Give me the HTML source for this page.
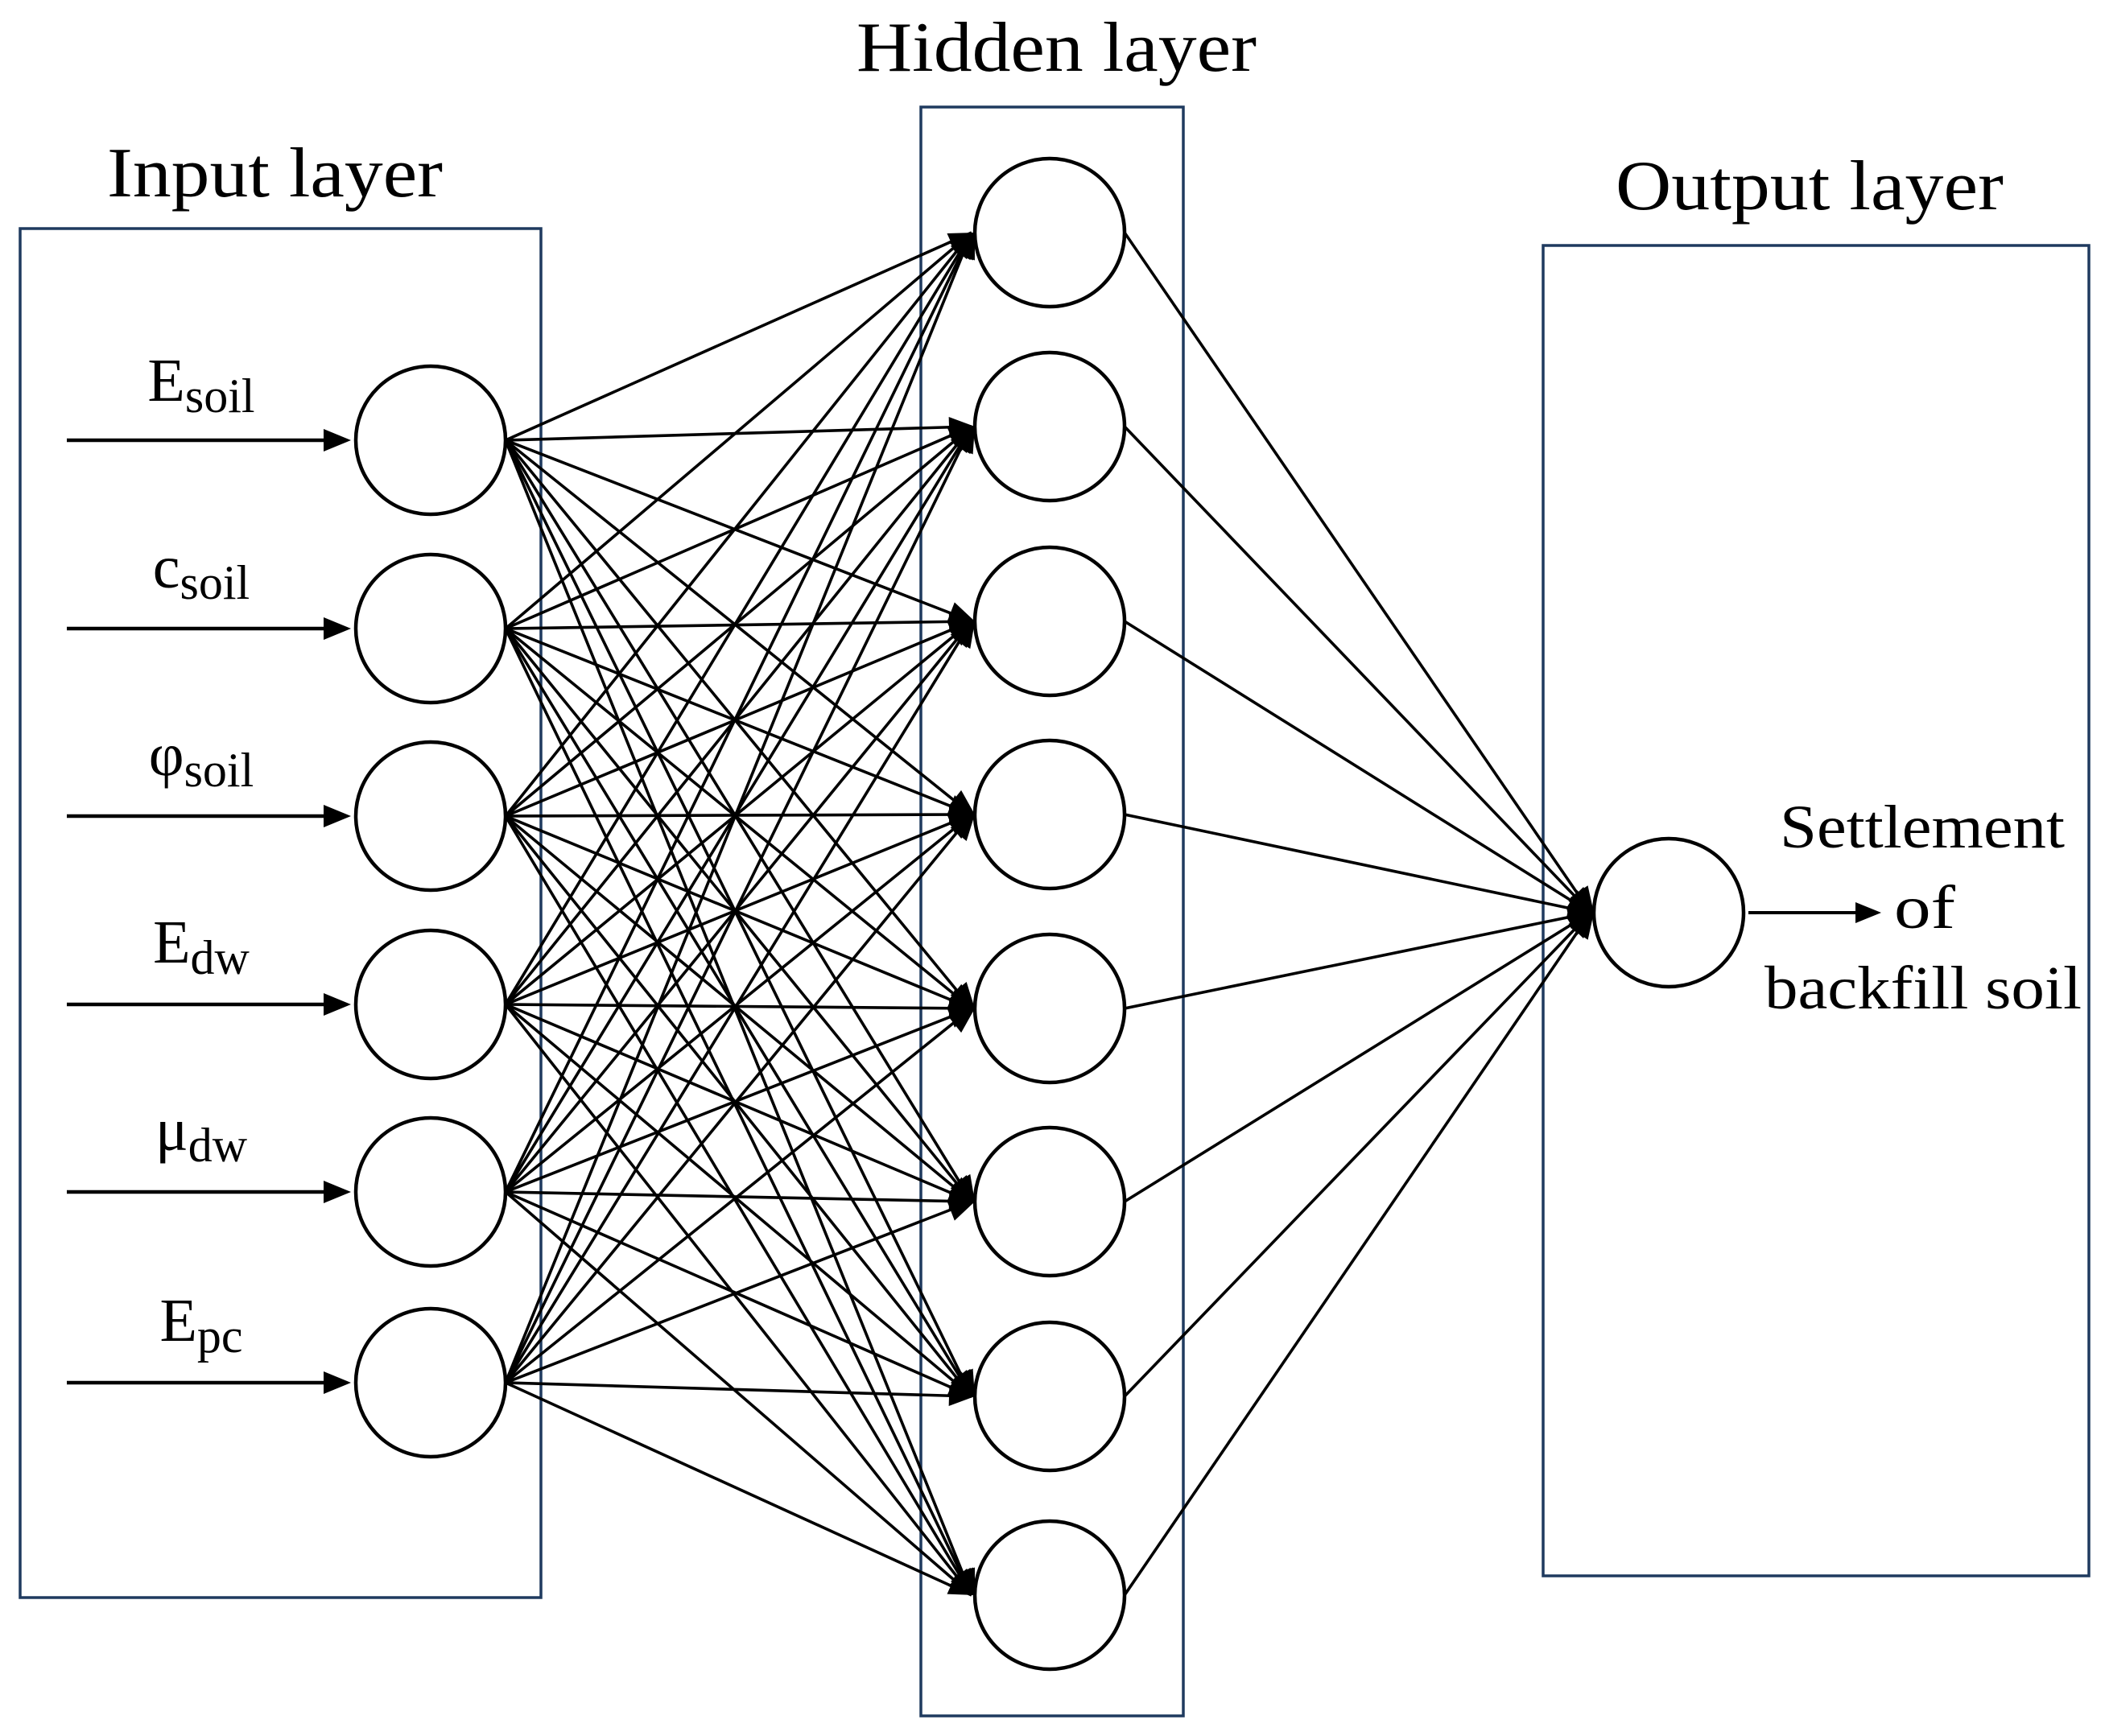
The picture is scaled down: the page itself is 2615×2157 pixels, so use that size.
<!DOCTYPE html>
<html><head><meta charset="utf-8">
<style>
html,body{margin:0;padding:0;background:#fff;}
svg{display:block;}
text{font-family:"Liberation Serif",serif;fill:#000;}
</style></head>
<body>
<svg id="s" width="2615" height="2157" viewBox="0 0 2615 2157" xmlns="http://www.w3.org/2000/svg">
<rect x="25" y="284" width="647" height="1701" fill="none" stroke="#1f3a5f" stroke-width="3.5"/>
<rect x="1144" y="133" width="326" height="1999" fill="none" stroke="#1f3a5f" stroke-width="3.5"/>
<rect x="1917" y="305" width="678" height="1653" fill="none" stroke="#1f3a5f" stroke-width="3.5"/>
<text x="133" y="244" font-size="88" textLength="417" lengthAdjust="spacingAndGlyphs">Input layer</text>
<text x="1064" y="88" font-size="88" textLength="497" lengthAdjust="spacingAndGlyphs">Hidden layer</text>
<text x="2007" y="260" font-size="88" textLength="482" lengthAdjust="spacingAndGlyphs">Output layer</text>
<g id="lines" stroke="#000" stroke-width="3.6" fill="none"></g>
<g id="heads" fill="#000"></g>
<g id="circles" fill="#fff" stroke="#000" stroke-width="4.5"></g>
<g font-size="76" text-anchor="middle">
<text x="250" y="498">E<tspan font-size="60" dy="14">soil</tspan></text>
<text x="250" y="730">c<tspan font-size="60" dy="14">soil</tspan></text>
<text x="250" y="963">φ<tspan font-size="60" dy="14">soil</tspan></text>
<text x="250" y="1196">E<tspan font-size="60" dy="14">dw</tspan></text>
<text x="250" y="1429">μ<tspan font-size="60" dy="14">dw</tspan></text>
<text x="250" y="1666">E<tspan font-size="60" dy="14">pc</tspan></text>
</g>
<g font-size="76">
<text x="2211" y="1053" textLength="354" lengthAdjust="spacingAndGlyphs">Settlement</text>
<text x="2353" y="1153" textLength="76" lengthAdjust="spacingAndGlyphs">of</text>
<text x="2192" y="1253" textLength="394" lengthAdjust="spacingAndGlyphs">backfill soil</text>
</g>
</svg>
<script>
var NS="http://www.w3.org/2000/svg";
var L=document.getElementById("lines"),H=document.getElementById("heads"),C=document.getElementById("circles");
function line(x1,y1,x2,y2,g,w){var l=document.createElementNS(NS,"line");l.setAttribute("x1",x1);l.setAttribute("y1",y1);l.setAttribute("x2",x2);l.setAttribute("y2",y2);if(w)l.setAttribute("stroke-width",w);g.appendChild(l);}
function head(x1,y1,x2,y2,len,wid){var dx=x2-x1,dy=y2-y1,d=Math.hypot(dx,dy);var ux=dx/d,uy=dy/d;var bx=x2-ux*len,by=y2-uy*len;var p=document.createElementNS(NS,"polygon");p.setAttribute("points",x2+","+y2+" "+(bx-uy*wid)+","+(by+ux*wid)+" "+(bx+uy*wid)+","+(by-ux*wid));H.appendChild(p);}
function circ(cx,cy,r){var c=document.createElementNS(NS,"ellipse");c.setAttribute("cx",cx);c.setAttribute("cy",cy);c.setAttribute("rx",r);c.setAttribute("ry",r-1);C.appendChild(c);}
var inY=[547,781,1014,1248,1481,1718],hY=[289,530,772,1012,1253,1493,1735,1982];
var ix=535,hx=1304,r=93,ox=2073,oy=1134;
inY.forEach(function(y){line(83,y,420,y,L,4.5);head(83,y,436,y,34,14);});
inY.forEach(function(y1){hY.forEach(function(y2){line(ix+r,y1,hx-r-4,y2,L);head(ix+r,y1,hx-r,y2,32,13);});});
hY.forEach(function(y){line(hx+r,y,ox-r-4,oy,L);head(hx+r,y,ox-r,oy,32,13);});
line(ox+r+6,oy,2320,oy,L,4);head(ox+r,oy,2337,oy,32,13);
inY.forEach(function(y){circ(ix,y,r);});
hY.forEach(function(y){circ(hx,y,r);});
circ(ox,oy,r);
</script>
</body></html>
